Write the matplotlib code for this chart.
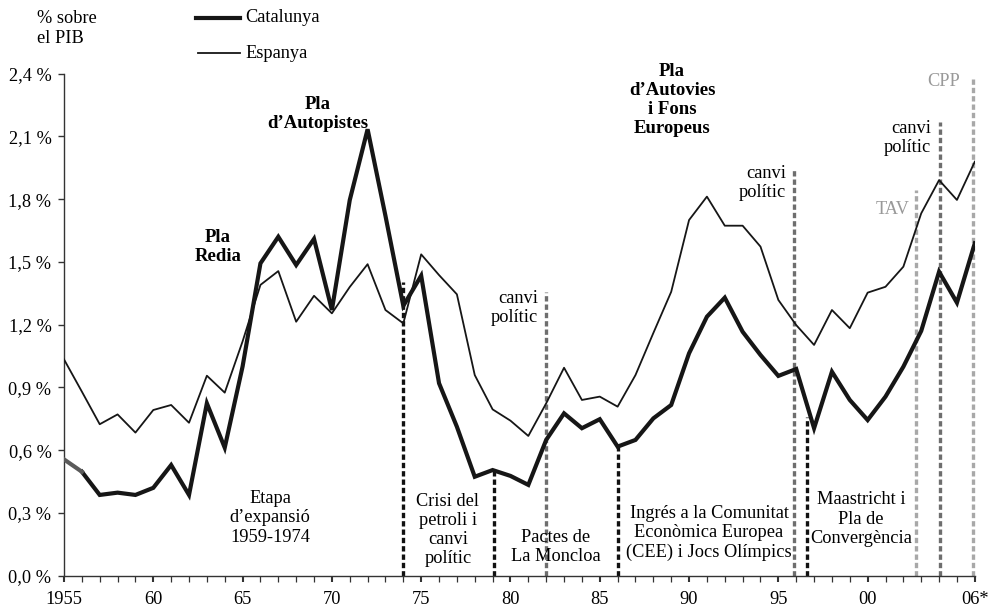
import matplotlib
matplotlib.use('Agg')

import numpy as np
import matplotlib.pyplot as plt
from matplotlib.lines import Line2D
from matplotlib.ticker import MultipleLocator

plt.rcParams['font.family'] = ['Liberation Serif', 'DejaVu Serif']

# Years 1955 - 2006
years = np.arange(1955, 2007)

# Public investment in roads, % of GDP
catalunya = [0.556, 0.497, 0.386, 0.397, 0.386, 0.420, 0.529, 0.386, 0.824, 0.612,
             1.000, 1.493, 1.620, 1.485, 1.610, 1.270, 1.795, 2.134, 1.720, 1.290,
             1.434, 0.920, 0.712, 0.473, 0.505, 0.477, 0.434, 0.649, 0.776, 0.705,
             0.748, 0.617, 0.649, 0.752, 0.816, 1.063, 1.238, 1.329, 1.166, 1.055,
             0.955, 0.988, 0.705, 0.975, 0.840, 0.744, 0.856, 0.999, 1.170, 1.453,
             1.305, 1.589]

espanya = [1.034, 0.880, 0.724, 0.771, 0.684, 0.792, 0.816, 0.731, 0.956, 0.875,
           1.120, 1.390, 1.456, 1.214, 1.338, 1.254, 1.380, 1.489, 1.270, 1.206,
           1.536, 1.437, 1.345, 0.959, 0.795, 0.741, 0.668, 0.824, 0.994, 0.840,
           0.856, 0.808, 0.959, 1.160, 1.357, 1.700, 1.812, 1.673, 1.673, 1.573,
           1.318, 1.198, 1.103, 1.270, 1.183, 1.353, 1.381, 1.477, 1.732, 1.891,
           1.796, 1.979]

# Vertical markers: (year, top value, colour)
markers = [
    (1974.0, 1.405, '#111111'),
    (1979.1, 0.505, '#111111'),
    (1982.0, 1.357, '#6e6e6e'),
    (1986.0, 0.617, '#111111'),
    (1995.9, 1.947, '#6e6e6e'),
    (1996.6, 0.760, '#111111'),
    (2002.7, 1.844, '#a8a8a8'),
    (2004.05, 2.170, '#6e6e6e'),
    (2005.9, 2.390, '#a8a8a8'),
]

ytick_vals = [0.0, 0.3, 0.6, 0.9, 1.2, 1.5, 1.8, 2.1, 2.4]
ytick_labels = ['0,0 %', '0,3 %', '0,6 %', '0,9 %', '1,2 %', '1,5 %', '1,8 %', '2,1 %', '2,4 %']
xtick_vals = [1955, 1960, 1965, 1970, 1975, 1980, 1985, 1990, 1995, 2000, 2006]
xtick_labels = ['1955', '60', '65', '70', '75', '80', '85', '90', '95', '00', '06*']

W, H = 992, 608
fig = plt.figure(figsize=(W / 100, H / 100), dpi=100)
ax = fig.add_axes([64 / W, 1 - 575.7 / H, 910.8 / W, 502.1 / H])

def fpos(x, y):
    return x / W, 1 - y / H

# dashed period markers
for xv, top, col in markers:
    ax.plot([xv, xv], [0, top], color=col, linewidth=2.4, linestyle=(0, (1.6, 0.9)),
            zorder=2, clip_on=False)

line = '#161616'
ax.plot(years, espanya, color=line, linewidth=1.3, zorder=3)
ax.plot(years[1:], catalunya[1:], color=line, linewidth=3.0, zorder=4,
        solid_joinstyle='miter')
ax.plot(years[:2], catalunya[:2], color='#5a5a5a', linewidth=3.0, zorder=4)

ax.set_xlim(1955, 2006)
ax.set_ylim(0, 2.4)
for s in ['top', 'right']:
    ax.spines[s].set_visible(False)
for s in ['left', 'bottom']:
    ax.spines[s].set_color('#333333')
    ax.spines[s].set_linewidth(1.0)

fs = 13.2
ax.set_yticks(ytick_vals)
ax.set_yticklabels(ytick_labels)
ax.set_xticks(xtick_vals)
ax.set_xticklabels(xtick_labels)
ax.xaxis.set_minor_locator(MultipleLocator(1))
ax.tick_params(axis='y', direction='out', length=4, width=1, pad=5, labelsize=fs,
               color='#333333')
ax.tick_params(axis='x', which='major', direction='out', length=4, width=1.5, pad=7,
               labelsize=fs, color='#333333')
ax.tick_params(axis='x', which='minor', direction='out', length=4, width=0.9,
               color='#333333')

# y-axis caption
fig.text(*fpos(37, 10), '% sobre\nel PIB', fontsize=fs, va='top', ha='left',
         linespacing=1.2)

# legend
fig.add_artist(Line2D([196 / W, 240 / W], [1 - 18 / H, 1 - 18 / H], color=line, linewidth=3.0))
fig.add_artist(Line2D([198 / W, 240 / W], [1 - 53 / H, 1 - 53 / H], color=line, linewidth=1.3))
fig.text(*fpos(245, 18), 'Catalunya', fontsize=fs, va='center', ha='left')
fig.text(*fpos(245, 53), 'Espanya', fontsize=fs, va='center', ha='left')

bold = dict(fontsize=13.5, fontweight='bold', ha='center', va='center', linespacing=1.17)
fig.text(*fpos(218, 247), 'Pla\nRedia', **bold)
fig.text(*fpos(318, 114), 'Pla\nd\u2019Autopistes', **bold)
fig.text(*fpos(672, 100), 'Pla\nd\u2019Autovies\ni Fons\nEuropeus', **bold)

per = dict(fontsize=fs, ha='center', va='center', linespacing=1.17)
fig.text(*fpos(270, 518), 'Etapa\nd\u2019expansió\n1959-1974', **per)
fig.text(*fpos(448, 530), 'Crisi del\npetroli i\ncanvi\npolític', **per)
fig.text(*fpos(556, 547), 'Pactes de\nLa Moncloa', **per)
fig.text(*fpos(709, 533), 'Ingrés a la Comunitat\nEconòmica Europea\n(CEE) i Jocs Olímpics', **per)
fig.text(*fpos(861, 519), 'Maastricht i\nPla de\nConvergència', **per)

right = dict(fontsize=fs, ha='right', va='center', linespacing=1.17)
fig.text(*fpos(538, 308), 'canvi\npolític', **right)
fig.text(*fpos(786, 183), 'canvi\npolític', **right)
fig.text(*fpos(931, 138), 'canvi\npolític', **right)
fig.text(*fpos(910, 210), 'TAV', color='#999999', **right)
fig.text(*fpos(960, 82), 'CPP', color='#999999', **right)

fig.savefig('out.png', dpi=100)
